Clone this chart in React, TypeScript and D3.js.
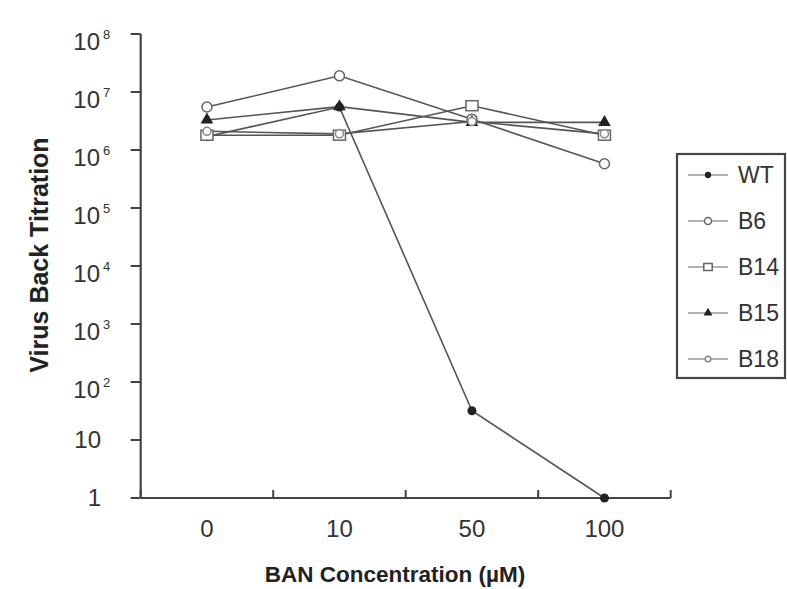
import React from "react";
import * as d3 from "d3";

const categories = ["0", "10", "50", "100"];
const seriesNames = ["WT", "B6", "B14", "B15", "B18"];
const wtValues = [1.7e6, 5.5e6, 32, 1];
const b6Values = [5.5e6, 1.9e7, 3.4e6, 5.8e5];
const b14Values = [1.8e6, 1.8e6, 5.8e6, 1.8e6];
const b15Values = [3.3e6, 5.6e6, 3.0e6, 3.0e6];
const b18Values = [2.1e6, 1.9e6, 3.1e6, 1.9e6];
const yTickExponents = [0, 1, 2, 3, 4, 5, 6, 7, 8];

const W = 787;
const H = 589;
const left = 140.7;
const right = 670.7;
const top = 34;
const bottom = 498;
const lineColor = "#555";
const axisColor = "#444";
const font = "Liberation Sans, Arial, Helvetica, sans-serif";

type Marker = "dot" | "circle" | "square" | "triangle" | "smallcircle";
const allSeries: { name: string; values: number[]; marker: Marker }[] = [
  { name: seriesNames[0], values: wtValues, marker: "dot" },
  { name: seriesNames[1], values: b6Values, marker: "circle" },
  { name: seriesNames[2], values: b14Values, marker: "square" },
  { name: seriesNames[3], values: b15Values, marker: "triangle" },
  { name: seriesNames[4], values: b18Values, marker: "smallcircle" },
];

function MarkerShape({ type, x, y, scale = 1 }: { type: Marker; x: number; y: number; scale?: number }) {
  const s = scale;
  switch (type) {
    case "dot":
      return <circle cx={x} cy={y} r={4.5 * s} fill="#222" />;
    case "circle":
      return <circle cx={x} cy={y} r={5 * s} fill="#fff" stroke="#666" strokeWidth={1.5} />;
    case "smallcircle":
      return <circle cx={x} cy={y} r={4 * s} fill="#fff" stroke="#888" strokeWidth={1.5} />;
    case "square":
      return (
        <rect x={x - 6 * s} y={y - 5 * s} width={12 * s} height={10 * s} fill="#fff" stroke="#666" strokeWidth={1.5} />
      );
    case "triangle": {
      const sym = d3.symbol(d3.symbolTriangle, 70 * s * s)();
      return <path d={sym as string} transform={`translate(${x},${y})`} fill="#222" />;
    }
  }
}

export default function App() {
  const x = d3.scaleBand<string>().domain(categories).range([left, right]).padding(0);
  const bw = x.bandwidth();
  const cx = (c: string) => (x(c) as number) + bw / 2;
  const y = d3.scaleLog().domain([1, 1e8]).range([bottom, top]);
  const line = d3
    .line<number>()
    .x((_, i) => cx(categories[i]))
    .y((v) => y(v));

  const xTickPositions = [...categories.map((c) => x(c) as number), right];

  const legendX = 677;
  const legendY = 154;
  const legendW = 108;
  const legendH = 224;
  const rowStart = 175;
  const rowGap = 46;

  return (
    <svg
      width={W}
      height={H}
      style={{ position: "absolute", left: 0, top: 0, background: "#fff" }}
      fontFamily={font}
    >
      <rect x={0} y={0} width={W} height={H} fill="#fff" />
      {/* Y axis */}
      <line x1={left} x2={left} y1={top} y2={bottom} stroke={axisColor} strokeWidth={2.2} />
      {yTickExponents.map((e) => {
        const ty = y(Math.pow(10, e));
        return (
          <g key={e}>
            <line x1={left - 10} x2={left} y1={ty} y2={ty} stroke={axisColor} strokeWidth={2} />
            {e === 0 ? (
              <text x={101} y={ty + 8} textAnchor="end" fontSize={24} fill="#333">
                1
              </text>
            ) : e === 1 ? (
              <text x={101} y={ty + 8} textAnchor="end" fontSize={24} fill="#333">
                10
              </text>
            ) : (
              <g>
                <text x={100} y={ty + 16} textAnchor="end" fontSize={24} fill="#333">
                  10
                </text>
                <text x={103} y={ty + 5} textAnchor="start" fontSize={13} fill="#333">
                  {e}
                </text>
              </g>
            )}
          </g>
        );
      })}
      {/* X axis */}
      <line x1={left} x2={right} y1={bottom} y2={bottom} stroke={axisColor} strokeWidth={2.2} />
      {xTickPositions.map((tx, i) => (
        <line key={i} x1={tx} x2={tx} y1={bottom} y2={bottom - 8} stroke={axisColor} strokeWidth={2} />
      ))}
      {categories.map((c) => (
        <text key={c} x={cx(c)} y={537} textAnchor="middle" fontSize={24} fill="#333">
          {c}
        </text>
      ))}
      {/* Axis titles */}
      <text x={395} y={582} textAnchor="middle" fontSize={22.5} fontWeight="bold" fill="#222">
        BAN Concentration (µM)
      </text>
      <text
        transform={`translate(48,255) rotate(-90)`}
        textAnchor="middle"
        fontSize={25}
        fontWeight="bold"
        fill="#222"
      >
        Virus Back Titration
      </text>
      {/* Lines */}
      {allSeries.map((s) => (
        <path key={s.name} d={line(s.values) as string} fill="none" stroke={lineColor} strokeWidth={1.6} />
      ))}
      {allSeries.map((s) =>
        s.values.map((v, i) => (
          <MarkerShape key={s.name + i} type={s.marker} x={cx(categories[i])} y={y(v)} />
        ))
      )}
      {/* Legend */}
      <rect x={legendX} y={legendY} width={legendW} height={legendH} fill="#fff" stroke="#444" strokeWidth={2.2} />
      {allSeries.map((s, i) => {
        const ry = rowStart + i * rowGap;
        return (
          <g key={s.name}>
            <line x1={688} x2={728} y1={ry} y2={ry} stroke="#999" strokeWidth={1.6} />
            <MarkerShape type={s.marker} x={708} y={ry} scale={0.7} />
            <text x={738} y={ry + 8} fontSize={23} fill="#333">
              {s.name}
            </text>
          </g>
        );
      })}
    </svg>
  );
}
